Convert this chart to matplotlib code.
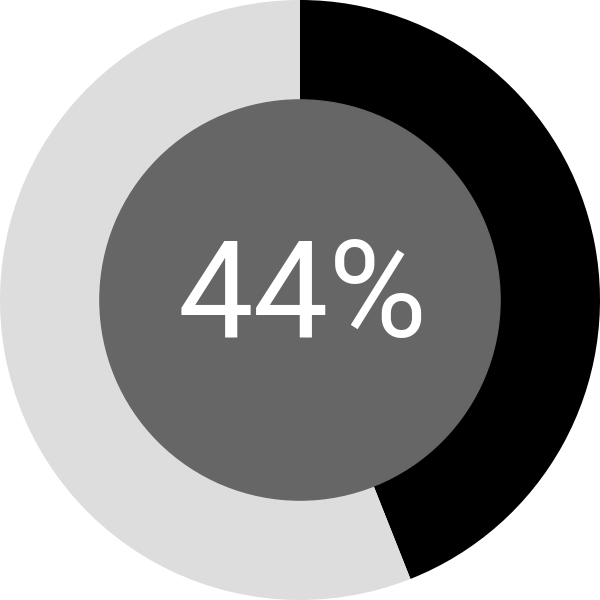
import matplotlib
matplotlib.use('Agg')
import matplotlib.pyplot as plt

# data
percent = 44
labels = ['done', 'rest']
values = [percent, 100 - percent]
colors = ['#000000', '#dddddd']

fig = plt.figure(figsize=(6, 6), dpi=100)
ax = fig.add_axes([0, 0, 1, 1])
ax.pie(values, colors=colors, startangle=90, counterclock=False, radius=1.0)
ax.add_patch(plt.Circle((0, 0), 0.667, color='#666666'))
ax.text(0.01, 0.0, '%d%%' % percent, color='white', fontsize=97,
        family='Roboto', ha='center', va='center')
ax.set_xlim(-1, 1)
ax.set_ylim(-1, 1)
ax.set_aspect('equal')
ax.axis('off')
fig.savefig('out.png', dpi=100)
